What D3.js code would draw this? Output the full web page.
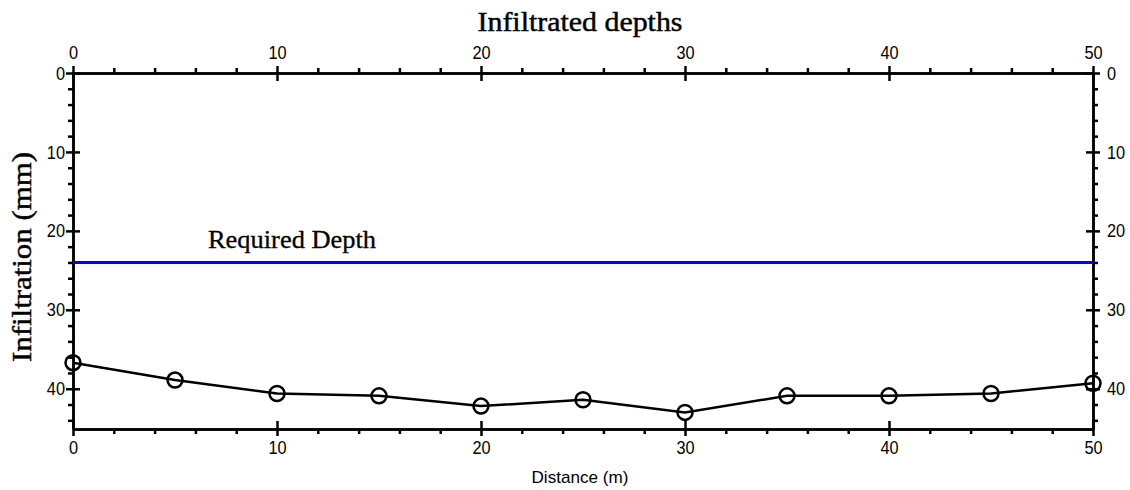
<!DOCTYPE html>
<html>
<head>
<meta charset="utf-8">
<script src="https://cdn.jsdelivr.net/npm/d3@7"></script>
<style>
  html, body { margin: 0; padding: 0; background: #fff; }
  svg { display: block; }
  .tick text { font-family: "Liberation Sans", Arial, sans-serif; font-size: 19px; fill: #000; }
  .domain { stroke: #000; stroke-width: 2.5px; }
  .tick line { stroke: #000; stroke-width: 2.5px; }
</style>
</head>
<body>
<svg id="chart" width="1130" height="490"></svg>
<script>
// Distance along the furrow (m) and infiltrated depth at each station (mm)
const distance = [0, 5, 10, 15, 20, 25, 30, 35, 40, 45, 50];
const infiltration = [36.7, 38.9, 40.6, 40.9, 42.2, 41.4, 43.0, 40.9, 40.9, 40.6, 39.3];
const requiredDepth = 24;

const xMajor = [0, 10, 20, 30, 40, 50];
const yMajor = [0, 10, 20, 30, 40];

const titleText = "Infiltrated depths";
const yTitle = "Infiltration (mm)";
const xTitle = "Distance (m)";
const requiredLabel = "Required Depth";

const svg = d3.select("#chart");
const plotLeft = 73, plotRight = 1093, plotTop = 73, plotBottom = 429;

const x = d3.scaleLinear().domain([0, 50]).range([plotLeft, plotRight]);
const y = d3.scaleLinear().domain([0, 45.1]).range([plotTop, plotBottom]);

const xMinor = d3.range(0, 50.001, 2).filter(v => !xMajor.includes(v));
const yMinor = d3.range(0, 45, 2).filter(v => !yMajor.includes(v));

// Condensed tick digits: squeeze each label horizontally around its anchor
function narrowLabels(g) {
  g.selectAll(".tick text").each(function () {
    const t = d3.select(this);
    const tx = +t.attr("x") || 0;
    t.attr("transform", `translate(${tx * 0.14},0) scale(0.86,1)`);
  });
}

// Minor ticks (outside only)
svg.append("g").attr("transform", `translate(0,${plotBottom})`)
  .call(d3.axisBottom(x).tickValues(xMinor).tickSize(5).tickFormat("").tickSizeOuter(0));
svg.append("g").attr("transform", `translate(0,${plotTop})`)
  .call(d3.axisTop(x).tickValues(xMinor).tickSize(5).tickFormat("").tickSizeOuter(0));
svg.append("g").attr("transform", `translate(${plotLeft},0)`)
  .call(d3.axisLeft(y).tickValues(yMinor).tickSize(5).tickFormat("").tickSizeOuter(0));
svg.append("g").attr("transform", `translate(${plotRight},0)`)
  .call(d3.axisRight(y).tickValues(yMinor).tickSize(5).tickFormat("").tickSizeOuter(0));

// Major ticks crossing the axis line, with labels
const gb = svg.append("g").attr("transform", `translate(0,${plotBottom})`)
  .call(d3.axisBottom(x).tickValues(xMajor).tickSize(7).tickPadding(5).tickSizeOuter(0));
gb.selectAll(".tick line").attr("y1", -8);
narrowLabels(gb);

const gt = svg.append("g").attr("transform", `translate(0,${plotTop})`)
  .call(d3.axisTop(x).tickValues(xMajor).tickSize(7).tickPadding(7).tickSizeOuter(0));
gt.selectAll(".tick line").attr("y1", 8);
narrowLabels(gt);

const gl = svg.append("g").attr("transform", `translate(${plotLeft},0)`)
  .call(d3.axisLeft(y).tickValues(yMajor).tickSize(7).tickPadding(1).tickSizeOuter(0));
gl.selectAll(".tick line").attr("x2", 7).attr("x1", -7);
narrowLabels(gl);

const gr = svg.append("g").attr("transform", `translate(${plotRight},0)`)
  .call(d3.axisRight(y).tickValues(yMajor).tickSize(7).tickPadding(7).tickSizeOuter(0));
gr.selectAll(".tick line").attr("x1", -7).attr("x2", 7);
narrowLabels(gr);

// Required depth line
svg.append("line")
  .attr("x1", x(0)).attr("x2", x(50))
  .attr("y1", y(requiredDepth)).attr("y2", y(requiredDepth))
  .attr("stroke", "#0000ee").attr("stroke-width", 3);

svg.append("text")
  .attr("x", 208).attr("y", y(requiredDepth) - 14)
  .attr("font-family", "'Liberation Serif', 'Times New Roman', serif")
  .attr("font-size", 25)
  .attr("stroke", "#000").attr("stroke-width", 0.3)
  .attr("textLength", 168).attr("lengthAdjust", "spacingAndGlyphs")
  .text(requiredLabel);

// Infiltration profile
const pts = distance.map((d, i) => [d, infiltration[i]]);
svg.append("path")
  .datum(pts)
  .attr("fill", "none").attr("stroke", "#000").attr("stroke-width", 2.5)
  .attr("d", d3.line().x(d => x(d[0])).y(d => y(d[1])));

svg.selectAll("circle.pt")
  .data(pts).enter().append("circle")
  .attr("class", "pt")
  .attr("cx", d => x(d[0])).attr("cy", d => y(d[1]))
  .attr("r", 7.5)
  .attr("fill", "none").attr("stroke", "#000").attr("stroke-width", 2.5);

// Titles
svg.append("text")
  .attr("x", 580).attr("y", 31)
  .attr("text-anchor", "middle")
  .attr("font-family", "'Liberation Serif', 'Times New Roman', serif")
  .attr("font-size", 27)
  .attr("stroke", "#000").attr("stroke-width", 0.45)
  .attr("textLength", 205).attr("lengthAdjust", "spacingAndGlyphs")
  .text(titleText);

svg.append("text")
  .attr("transform", `translate(31,257) rotate(-90)`)
  .attr("text-anchor", "middle")
  .attr("font-family", "'Liberation Serif', 'Times New Roman', serif")
  .attr("font-size", 27)
  .attr("stroke", "#000").attr("stroke-width", 0.45)
  .attr("textLength", 210).attr("lengthAdjust", "spacingAndGlyphs")
  .text(yTitle);

svg.append("text")
  .attr("x", 580).attr("y", 483)
  .attr("text-anchor", "middle")
  .attr("font-family", "'Liberation Sans', Arial, sans-serif")
  .attr("font-size", 17)
  .attr("textLength", 97).attr("lengthAdjust", "spacingAndGlyphs")
  .text(xTitle);
</script>
</body>
</html>
